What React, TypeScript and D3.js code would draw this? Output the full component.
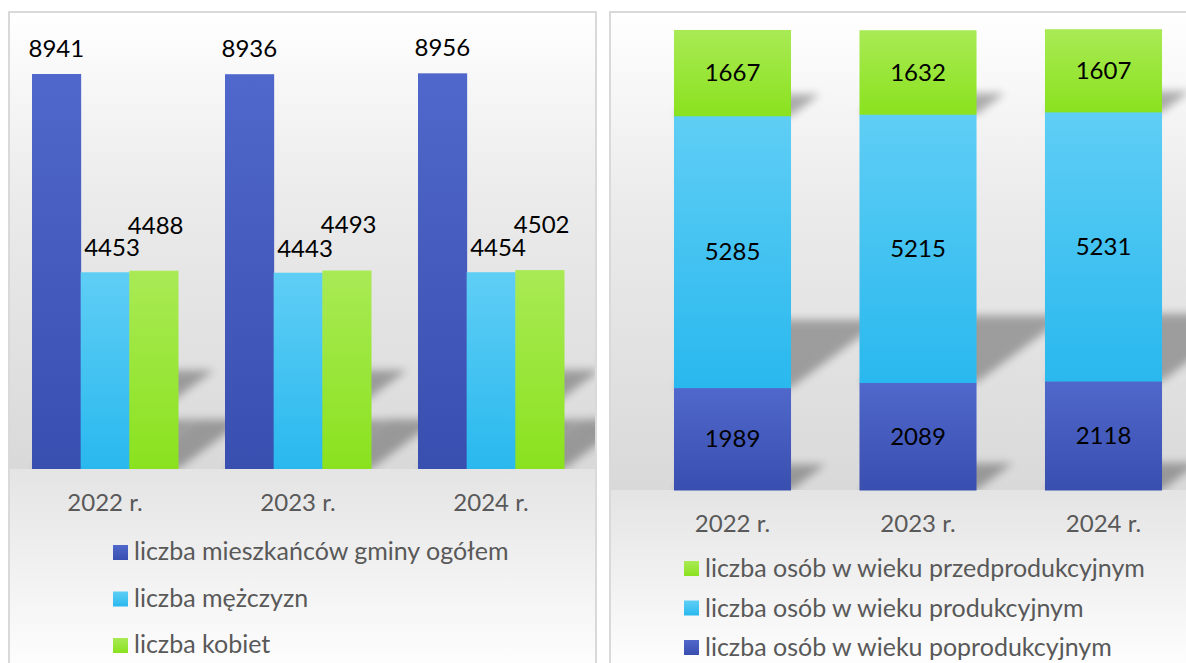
import React from 'react';
import * as d3 from 'd3';

// values
const years = ['2022 r.', '2023 r.', '2024 r.'];
const totalResidents = [8941, 8936, 8956];
const men = [4453, 4443, 4454];
const women = [4488, 4493, 4502];
const preWorkingAge = [1667, 1632, 1607];
const workingAge = [5285, 5215, 5231];
const postWorkingAge = [1989, 2089, 2118];

const leftSeries = ['total', 'men', 'women'];
const leftLegend = ['liczba mieszkańców gminy ogółem', 'liczba mężczyzn', 'liczba kobiet'];
const rightSeries = ['post', 'working', 'pre'];
const rightLegend = ['liczba osób w wieku przedprodukcyjnym', 'liczba osób w wieku produkcyjnym', 'liczba osób w wieku poprodukcyjnym'];

const W = 1186;
const H = 663;
const FONT = 'Lato, "Open Sans", sans-serif';
const SHEAR = 1.35;

const fillFor = { total: 'url(#gBlue)', men: 'url(#gCyan)', women: 'url(#gGreen)', post: 'url(#gBlue)', working: 'url(#gCyan)', pre: 'url(#gGreen)' };

function shadowPoints(x0: number, x1: number, yTop: number, yBottom: number) {
  var hs = 0.25 * (yBottom - yTop);
  return [
    [x0, yBottom], [x1, yBottom], [x1 + SHEAR * hs, yBottom - hs], [x0 + SHEAR * hs, yBottom - hs]
  ].map(p => p.join(',')).join(' ');
}

function LeftChart() {
  var baseY = 469;
  var y = d3.scaleLinear().domain([0, 10000]).range([baseY, baseY - 441.8]);
  var x0 = d3.scaleBand().domain(years).range([8.5, 587.5]);
  var x1 = d3.scaleBand().domain(leftSeries).range([23.5, 169.5]);

  var rows = years.map((yr, i) => ({ yr, values: { total: totalResidents[i], men: men[i], women: women[i] } }));

  // label placement relative to the top of each bar
  var labelOffset = { total: { dx: 0, dy: -17 }, men: { dx: 7, dy: -16 }, women: { dx: 2, dy: -37 } };

  return (
    <g>
      <rect x={9} y={12} width={587} height={baseY - 12} fill="url(#gPlot)" />
      <rect x={9} y={baseY} width={587} height={H - baseY} fill="url(#gLower)" />
      <g clipPath="url(#clipLeft)">
        {rows.map(r => leftSeries.map(s => {
          var bx = x0(r.yr)! + x1(s)!;
          return <polygon key={r.yr + s} points={shadowPoints(bx, bx + x1.bandwidth(), y(r.values[s]), baseY)}
            fill="#000" opacity={0.3} filter="url(#blur)" />;
        }))}
      </g>
      {rows.map(r => leftSeries.map(s => (
        <rect key={r.yr + s} x={x0(r.yr)! + x1(s)!} y={y(r.values[s])} width={x1.bandwidth() + 0.5}
          height={baseY - y(r.values[s])} fill={fillFor[s]} />
      )))}
      {rows.map(r => leftSeries.map(s => (
        <text key={'l' + r.yr + s} x={x0(r.yr)! + x1(s)! + x1.bandwidth() / 2 + labelOffset[s].dx}
          y={y(r.values[s]) + labelOffset[s].dy} textAnchor="middle" fontSize={24} fill="#000">{r.values[s]}</text>
      )))}
      {years.map(yr => (
        <text key={yr} x={x0(yr)! + x0.bandwidth() / 2} y={511} textAnchor="middle" fontSize={24} fill="#595959">{yr}</text>
      ))}
      {leftLegend.map((name, i) => (
        <g key={name} transform={`translate(113, ${545 + i * 46.5})`}>
          <rect width={15} height={15} fill={fillFor[leftSeries[i]]} />
          <text x={21} y={15} fontSize={25} fill="#595959">{name}</text>
        </g>
      ))}
      <rect x={9} y={12} width={587} height={H} fill="none" stroke="#d9d9d9" strokeWidth={2} />
    </g>
  );
}

function RightChart() {
  var baseY = 490;
  var y = d3.scaleLinear().domain([0, 9000]).range([baseY, baseY - 463.05]);
  var x = d3.scaleBand().domain(years).range([639.75, 1196.25]).paddingInner(0.369).paddingOuter(0.1845);

  var table = years.map((yr, i) => ({ yr, post: postWorkingAge[i], working: workingAge[i], pre: preWorkingAge[i] }));
  var stacked = d3.stack().keys(rightSeries)(table as any);

  return (
    <g>
      <rect x={610} y={12} width={600} height={baseY - 12} fill="url(#gPlot)" />
      <rect x={610} y={baseY} width={600} height={H - baseY} fill="url(#gLower)" />
      <g clipPath="url(#clipRight)">
        {stacked.map(layer => layer.map((d, i) => (
          <polygon key={layer.key + i} points={shadowPoints(x(years[i])!, x(years[i])! + x.bandwidth(), y(d[1]), y(d[0]))}
            fill="#000" opacity={0.3} filter="url(#blur)" />
        )))}
      </g>
      {stacked.map(layer => layer.map((d, i) => (
        <rect key={layer.key + i} x={x(years[i])} y={y(d[1])} width={x.bandwidth()} height={y(d[0]) - y(d[1]) + 0.5}
          fill={fillFor[layer.key]} />
      )))}
      {stacked.map(layer => layer.map((d, i) => (
        <text key={'t' + layer.key + i} x={x(years[i])! + x.bandwidth() / 2} y={(y(d[0]) + y(d[1])) / 2 + 8.5}
          textAnchor="middle" fontSize={24} fill="#000">{d[1] - d[0]}</text>
      )))}
      {years.map(yr => (
        <text key={yr} x={x(yr)! + x.bandwidth() / 2} y={532} textAnchor="middle" fontSize={24} fill="#595959">{yr}</text>
      ))}
      {rightLegend.map((name, i) => (
        <g key={name} transform={`translate(684, ${561 + i * 39.5})`}>
          <rect width={15} height={15} fill={fillFor[rightSeries[2 - i]]} />
          <text x={21} y={16} fontSize={25} fill="#595959">{name}</text>
        </g>
      ))}
      <rect x={610} y={12} width={600} height={H} fill="none" stroke="#d9d9d9" strokeWidth={2} />
    </g>
  );
}

export default function App() {
  return (
    <svg width={W} height={H} style={{ position: 'absolute', left: 0, top: 0, background: '#fff' }} fontFamily={FONT}>
      <defs>
        <linearGradient id="gBlue" x1="0" y1="0" x2="0" y2="1">
          <stop offset="0" stopColor="#5068cb" />
          <stop offset="1" stopColor="#394fb0" />
        </linearGradient>
        <linearGradient id="gCyan" x1="0" y1="0" x2="0" y2="1">
          <stop offset="0" stopColor="#5fcef5" />
          <stop offset="1" stopColor="#29b8ee" />
        </linearGradient>
        <linearGradient id="gGreen" x1="0" y1="0" x2="0" y2="1">
          <stop offset="0" stopColor="#a9ea55" />
          <stop offset="1" stopColor="#8ae21e" />
        </linearGradient>
        <linearGradient id="gPlot" x1="0" y1="0" x2="0" y2="1">
          <stop offset="0" stopColor="#ffffff" />
          <stop offset="0.4" stopColor="#ebebeb" />
          <stop offset="1" stopColor="#d9d9d9" />
        </linearGradient>
        <linearGradient id="gLower" x1="0" y1="0" x2="0" y2="1">
          <stop offset="0" stopColor="#e4e4e4" />
          <stop offset="1" stopColor="#fdfdfd" />
        </linearGradient>
        <filter id="blur" x="-50%" y="-50%" width="200%" height="200%">
          <feGaussianBlur stdDeviation="4" />
        </filter>
        <clipPath id="clipLeft"><rect x={9} y={12} width={587} height={457} /></clipPath>
        <clipPath id="clipRight"><rect x={610} y={12} width={600} height={478} /></clipPath>
      </defs>
      <LeftChart />
      <RightChart />
    </svg>
  );
}
